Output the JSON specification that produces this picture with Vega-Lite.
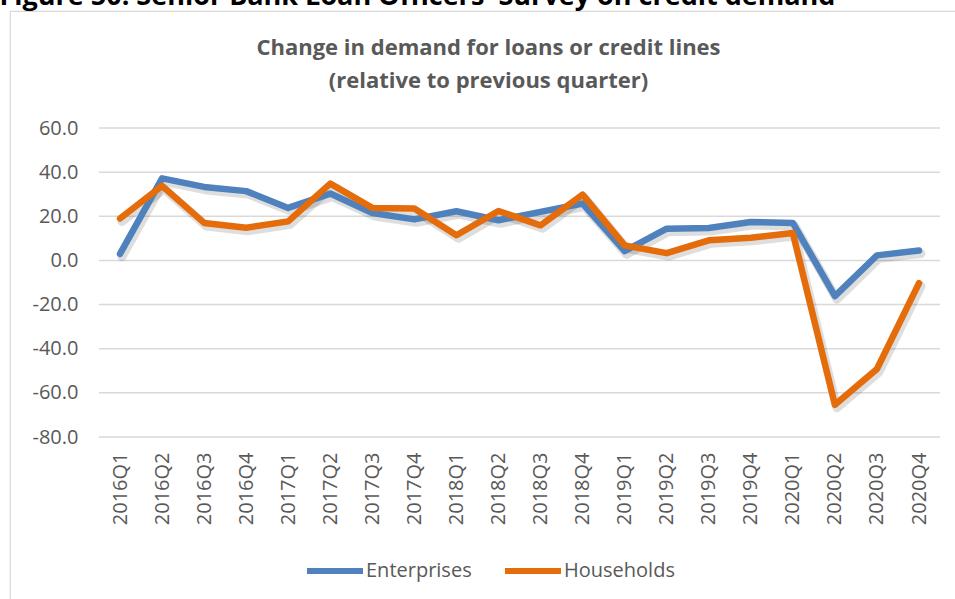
{
  "$schema": "https://vega.github.io/schema/vega-lite/v6.json",
  "autosize": {"type": "none"},
  "width": 1019,
  "height": 609,
  "padding": {"left": 10, "top": 11, "right": -74, "bottom": -21},
  "background": "white",
  "config": {"view": {"stroke": "#d9d9d9", "strokeWidth": 1.2}},
  "datasets": {
    "grid": [
      {"v": -80}, {"v": -60}, {"v": -40}, {"v": -20}, {"v": 0}, {"v": 20}, {"v": 40}, {"v": 60}
    ],
    "series": [
      {"q": "2016Q1", "s": "Enterprises", "v": 3.0},
      {"q": "2016Q2", "s": "Enterprises", "v": 37.2},
      {"q": "2016Q3", "s": "Enterprises", "v": 33.3},
      {"q": "2016Q4", "s": "Enterprises", "v": 31.4},
      {"q": "2017Q1", "s": "Enterprises", "v": 23.8},
      {"q": "2017Q2", "s": "Enterprises", "v": 30.3},
      {"q": "2017Q3", "s": "Enterprises", "v": 21.5},
      {"q": "2017Q4", "s": "Enterprises", "v": 18.6},
      {"q": "2018Q1", "s": "Enterprises", "v": 22.3},
      {"q": "2018Q2", "s": "Enterprises", "v": 18.2},
      {"q": "2018Q3", "s": "Enterprises", "v": 22.0},
      {"q": "2018Q4", "s": "Enterprises", "v": 25.8},
      {"q": "2019Q1", "s": "Enterprises", "v": 4.2},
      {"q": "2019Q2", "s": "Enterprises", "v": 14.4},
      {"q": "2019Q3", "s": "Enterprises", "v": 14.7},
      {"q": "2019Q4", "s": "Enterprises", "v": 17.4},
      {"q": "2020Q1", "s": "Enterprises", "v": 17.0},
      {"q": "2020Q2", "s": "Enterprises", "v": -16.2},
      {"q": "2020Q3", "s": "Enterprises", "v": 2.3},
      {"q": "2020Q4", "s": "Enterprises", "v": 4.5},
      {"q": "2016Q1", "s": "Households", "v": 19.0},
      {"q": "2016Q2", "s": "Households", "v": 33.8},
      {"q": "2016Q3", "s": "Households", "v": 17.0},
      {"q": "2016Q4", "s": "Households", "v": 14.8},
      {"q": "2017Q1", "s": "Households", "v": 17.7},
      {"q": "2017Q2", "s": "Households", "v": 34.8},
      {"q": "2017Q3", "s": "Households", "v": 23.8},
      {"q": "2017Q4", "s": "Households", "v": 23.5},
      {"q": "2018Q1", "s": "Households", "v": 11.4},
      {"q": "2018Q2", "s": "Households", "v": 22.4},
      {"q": "2018Q3", "s": "Households", "v": 15.9},
      {"q": "2018Q4", "s": "Households", "v": 29.8},
      {"q": "2019Q1", "s": "Households", "v": 6.8},
      {"q": "2019Q2", "s": "Households", "v": 3.3},
      {"q": "2019Q3", "s": "Households", "v": 9.1},
      {"q": "2019Q4", "s": "Households", "v": 10.3},
      {"q": "2020Q1", "s": "Households", "v": 12.4},
      {"q": "2020Q2", "s": "Households", "v": -65.4},
      {"q": "2020Q3", "s": "Households", "v": -49.2},
      {"q": "2020Q4", "s": "Households", "v": -10.3}
    ]
  },
  "layer": [
    {
      "data": {"name": "grid"},
      "mark": {"type": "rule", "color": "#d9d9d9", "strokeWidth": 1.5, "xOffset": -21, "x2Offset": 21},
      "encoding": {
        "x": {"datum": "2016Q1", "type": "ordinal"},
        "x2": {"datum": "2020Q4"},
        "y": {"field": "v", "type": "quantitative"}
      }
    },
    {
      "data": {"name": "series"},
      "mark": {"type": "line", "color": "#000000", "opacity": 0.13, "strokeWidth": 9, "strokeCap": "round", "strokeJoin": "round", "xOffset": 2, "yOffset": 3},
      "encoding": {
        "x": {"field": "q", "type": "ordinal"},
        "y": {"field": "v", "type": "quantitative"},
        "detail": {"field": "s"}
      }
    },
    {
      "data": {"name": "series"},
      "mark": {"type": "line", "strokeWidth": 6.5, "strokeCap": "round", "strokeJoin": "round"},
      "encoding": {
        "x": {
          "field": "q", "type": "ordinal",
          "scale": {"type": "point", "range": [110, 909], "padding": 0},
          "axis": {
            "labelAngle": -90, "ticks": false, "domain": false, "grid": false,
            "offset": -183,
            "labelPadding": 15, "labelFont": "Open Sans", "labelFontSize": 20, "labelColor": "#595959",
            "title": "Figure 50: Senior Bank Loan Officers' Survey on credit demand",
            "titleAngle": 0, "titleAlign": "left", "titleBaseline": "alphabetic",
            "titleX": -11, "titleY": -433,
            "titleFont": "Open Sans", "titleFontSize": 27, "titleFontWeight": "bold", "titleColor": "#000000"
          }
        },
        "y": {
          "field": "v", "type": "quantitative",
          "scale": {"domain": [-162.91, 113.01], "nice": false, "zero": false},
          "axis": {
            "values": [-80, -60, -40, -20, 0, 20, 40, 60],
            "format": ".1f",
            "labelExpr": "replace(datum.label, '\u2212', '-')",
            "ticks": false, "domain": false, "grid": false,
            "offset": -88,
            "labelPadding": 20, "labelFont": "Open Sans", "labelFontSize": 20, "labelColor": "#595959",
            "title": ["Change in demand for loans or credit lines", "(relative to previous quarter)"],
            "titleAngle": 0, "titleAlign": "center", "titleBaseline": "alphabetic",
            "titleX": 390, "titleY": 43, "titleLineHeight": 33,
            "titleFont": "Open Sans", "titleFontSize": 22, "titleFontWeight": "bold", "titleColor": "#595959"
          }
        },
        "color": {
          "field": "s", "type": "nominal",
          "scale": {"domain": ["Enterprises", "Households"], "range": ["#4F81BD", "#E46C0A"]},
          "legend": {
            "title": null, "orient": "none", "direction": "horizontal",
            "legendX": 294, "legendY": 529,
            "symbolType": "stroke", "symbolSize": 3136, "symbolStrokeWidth": 6,
            "labelFont": "Open Sans", "labelFontSize": 20, "labelColor": "#595959",
            "labelOffset": 0, "columnPadding": 21
          }
        }
      }
    }
  ]
}
